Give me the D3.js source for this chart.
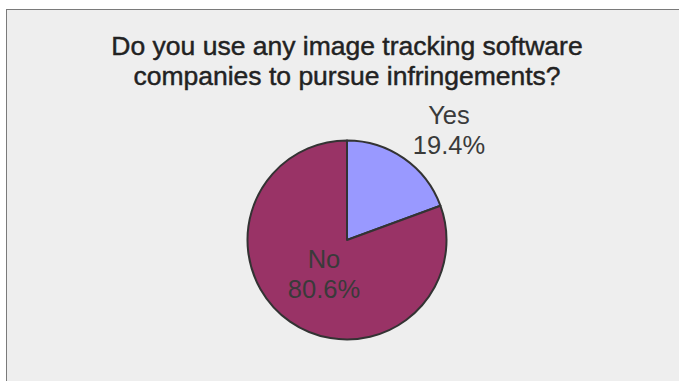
<!DOCTYPE html>
<html>
<head>
<meta charset="utf-8">
<script src="https://cdn.jsdelivr.net/npm/d3@7"></script>
<style>
  html, body { margin: 0; padding: 0; background: #ffffff; }
  svg { display: block; }
</style>
</head>
<body>
<svg id="chart" width="679" height="381"></svg>
<script>
// Survey answers
const categories = ["Yes", "No"];
const shares = [19.4, 80.6];
const sliceColors = ["#9999ff", "#993366"];
const titleLines = ["Do you use any image tracking software", "companies to pursue infringements?"];

const width = 679, height = 381;
const svg = d3.select("#chart");
const font = "'Liberation Sans', Arial, sans-serif";

// Chart area panel
svg.append("rect")
  .attr("x", 6.5).attr("y", 9.5)
  .attr("width", width + 10).attr("height", height + 10)
  .attr("fill", "#eeeeee")
  .attr("stroke", "#7a7a7a")
  .attr("stroke-width", 1);

// Title
svg.append("g").selectAll("text")
  .data(titleLines)
  .join("text")
  .attr("x", 347)
  .attr("y", (d, i) => 55 + i * 30)
  .attr("text-anchor", "middle")
  .attr("font-family", font)
  .attr("font-size", 26.5)
  .attr("fill", "#222222")
  .attr("stroke", "#222222")
  .attr("stroke-width", 0.45)
  .text(d => d);

// Pie
const cx = 347, cy = 240, radius = 99.5;
const data = categories.map((c, i) => ({ label: c, value: shares[i], color: sliceColors[i] }));
const pie = d3.pie().value(d => d.value).sort(null);
const arc = d3.arc().innerRadius(0).outerRadius(radius);
const arcs = pie(data);

const g = svg.append("g").attr("transform", `translate(${cx},${cy})`);
g.selectAll("path")
  .data(arcs)
  .join("path")
  .attr("d", arc)
  .attr("fill", d => d.data.color)
  .attr("stroke", "#333333")
  .attr("stroke-width", 2)
  .attr("stroke-linejoin", "round");

// Labels: the small slice is labelled outside the pie, the large one inside
function labelPos(d) {
  const mid = (d.startAngle + d.endAngle) / 2;
  const small = d.endAngle - d.startAngle < Math.PI;
  const r = small ? radius * 1.553 : radius * 0.364;
  const a = mid + (small ? 0.111 : 0.079);
  return [r * Math.sin(a), -r * Math.cos(a)];
}

const labels = g.selectAll("g.lbl")
  .data(arcs)
  .join("g")
  .attr("class", "lbl")
  .attr("transform", d => `translate(${labelPos(d)})`);

labels.append("text")
  .attr("text-anchor", "middle")
  .attr("font-family", font)
  .attr("font-size", 25.5)
  .attr("fill", "#3a3a3a")
  .attr("y", 0)
  .text(d => d.data.label);

labels.append("text")
  .attr("text-anchor", "middle")
  .attr("font-family", font)
  .attr("font-size", 25.5)
  .attr("fill", "#3a3a3a")
  .attr("y", 30)
  .text(d => d3.format(".1f")(d.data.value) + "%");
</script>
</body>
</html>
